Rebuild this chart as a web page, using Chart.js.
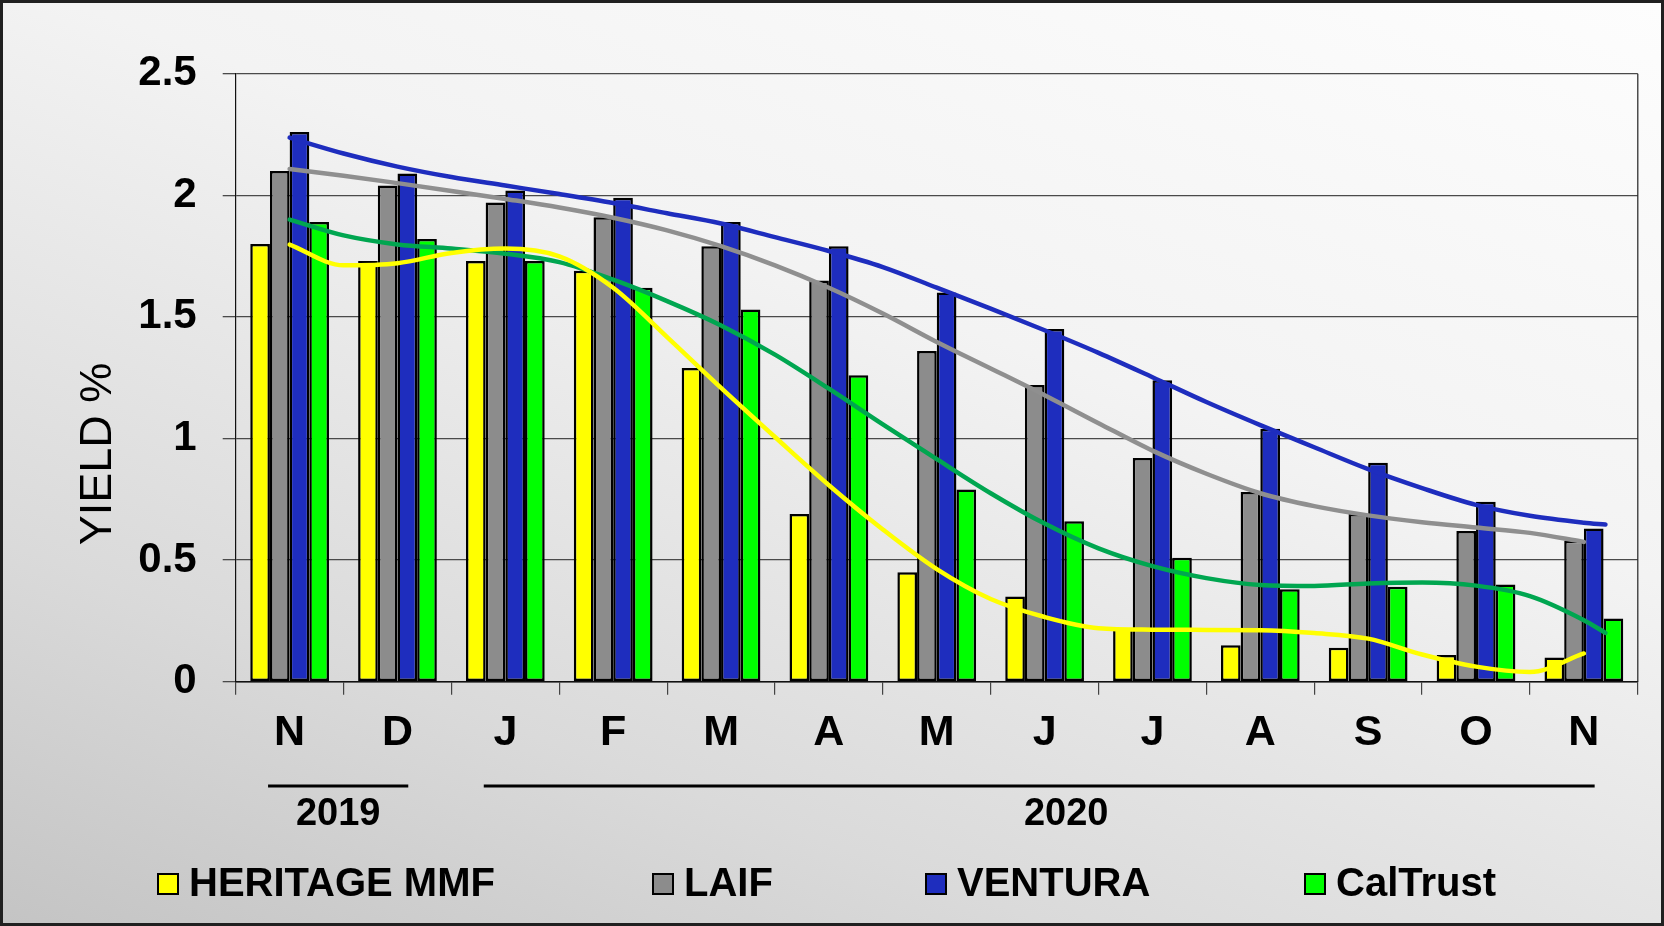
<!DOCTYPE html>
<html>
<head>
<meta charset="utf-8">
<script src="https://cdn.jsdelivr.net/npm/chart.js@4.4.1/dist/chart.umd.min.js"></script>
<style>
    html, body { margin: 0; padding: 0; }
    .frame {
        position: relative;
        width: 1664px;
        height: 926px;
        box-sizing: border-box;
        border: 3px solid #202020;
        background: linear-gradient(200deg, #fdfdfd 0%, #f3f3f3 38%, #dadada 75%, #c4c4c4 100%);
        overflow: hidden;
    }
    .frame canvas { position: absolute; left: 0; top: 0; }
    .legend-item {
        position: absolute;
        top: 859px;
        height: 40px;
        display: flex;
        align-items: center;
        font: bold 40px 'Liberation Sans', Arial, sans-serif;
        color: #000;
        white-space: nowrap;
    }
    .legend-box {
        width: 18px;
        height: 18px;
        border: 2px solid #000;
        margin-right: 10px;
        margin-top: 3px;
    }
</style>
</head>
<body>
<div class="frame" id="frame">
    <canvas id="barChart" width="1658" height="920"></canvas>
    <canvas id="trendChart" width="1658" height="920"></canvas>
</div>
<script>
// months Nov 2019 .. Nov 2020
const MONTHS = ['N', 'D', 'J', 'F', 'M', 'A', 'M', 'J', 'J', 'A', 'S', 'O', 'N'];

const HERITAGE = [1.80, 1.73, 1.73, 1.69, 1.29, 0.69, 0.45, 0.35, 0.22, 0.15, 0.14, 0.11, 0.10];
const LAIF     = [2.10, 2.04, 1.97, 1.91, 1.79, 1.65, 1.36, 1.22, 0.92, 0.78, 0.69, 0.62, 0.58];
const VENTURA  = [2.26, 2.09, 2.02, 1.99, 1.89, 1.79, 1.60, 1.45, 1.24, 1.04, 0.90, 0.74, 0.63];
const CALTRUST = [1.89, 1.82, 1.73, 1.62, 1.53, 1.26, 0.79, 0.66, 0.51, 0.38, 0.39, 0.40, 0.26];

// trendline positions (month index) and values
const TREND_X = [0, 0.5, 1, 1.5, 2, 2.5, 3, 3.5, 4, 4.5, 5, 5.5, 6, 6.5, 7, 7.5, 8, 8.5, 9, 9.5, 10, 10.5, 11, 11.5, 12, 12.2];
const HERITAGE_TREND = [1.797, 1.712, 1.721, 1.763, 1.781, 1.749, 1.620, 1.417, 1.208, 1.006, 0.808, 0.626, 0.463, 0.340, 0.266, 0.220, 0.214, 0.213, 0.212, 0.200, 0.177, 0.112, 0.062, 0.040, 0.116];
const LAIF_TREND     = [2.108, 2.080, 2.050, 2.018, 1.985, 1.950, 1.908, 1.856, 1.791, 1.712, 1.620, 1.514, 1.397, 1.288, 1.178, 1.063, 0.950, 0.855, 0.775, 0.722, 0.684, 0.656, 0.634, 0.612, 0.575];
const VENTURA_TREND  = [2.237, 2.172, 2.118, 2.075, 2.040, 2.005, 1.968, 1.926, 1.884, 1.828, 1.771, 1.705, 1.620, 1.534, 1.445, 1.352, 1.252, 1.150, 1.055, 0.964, 0.874, 0.796, 0.727, 0.682, 0.654, 0.646];
const CALTRUST_TREND = [1.900, 1.835, 1.798, 1.781, 1.760, 1.725, 1.653, 1.565, 1.465, 1.345, 1.205, 1.058, 0.915, 0.775, 0.650, 0.548, 0.475, 0.426, 0.398, 0.394, 0.404, 0.408, 0.395, 0.352, 0.253, 0.201];

const Y_TICKS = [0, 0.5, 1, 1.5, 2, 2.5];
const YEARS = [
    { label: '2019', from: 0, to: 1, at: 0.45 },
    { label: '2020', from: 2, to: 12, at: 7.2 },
];

const SANS = "'Liberation Sans', Arial, sans-serif";
// plot box inside the canvas, shared by both charts
const PLOT = { left: 232.7, top: 70.7, right: 23.2, bottom: 241.3 };

const barSet = (label, data, color) => ({
    label,
    data,
    backgroundColor: color,
    borderColor: '#000',
    borderWidth: 2.5,
    borderSkipped: false,
    categoryPercentage: 0.73,
    barPercentage: 1.0,
});

const trendSet = (label, vals, color) => ({
    label,
    data: vals.map((y, i) => ({ x: TREND_X[i], y })),
    borderColor: color,
    borderWidth: 4.5,
    borderCapStyle: 'round',
    pointRadius: 0,
    cubicInterpolationMode: 'monotone',
    fill: false,
});

// plot border on the right, year brackets, axis title
const extras = {
    id: 'extras',
    afterDraw(chart) {
        const { ctx, chartArea: a, scales: { x } } = chart;
        ctx.save();
        ctx.strokeStyle = '#222';
        ctx.lineWidth = 1.2;
        ctx.beginPath();
        ctx.moveTo(a.right, a.top);
        ctx.lineTo(a.right, a.bottom);
        ctx.stroke();

        ctx.fillStyle = '#000';
        ctx.strokeStyle = '#000';
        ctx.lineWidth = 3;
        ctx.textAlign = 'center';
        ctx.textBaseline = 'middle';
        ctx.font = `bold 38px ${SANS}`;
        YEARS.forEach(y => {
            ctx.beginPath();
            ctx.moveTo(x.getPixelForValue(y.from - 0.2), 783);
            ctx.lineTo(x.getPixelForValue(y.to + 0.1), 783);
            ctx.stroke();
            ctx.fillText(y.label, x.getPixelForValue(y.at), 812);
        });

        ctx.translate(96, 451);
        ctx.rotate(-Math.PI / 2);
        ctx.font = `45px ${SANS}`;
        ctx.fillText('YIELD %', 0, 0);
        ctx.restore();
    },
};

const barChart = new Chart(document.getElementById('barChart').getContext('2d'), {
    type: 'bar',
    data: {
        labels: MONTHS,
        datasets: [
            barSet('HERITAGE MMF', HERITAGE, '#ffff00'),
            barSet('LAIF', LAIF, '#8c8c8c'),
            barSet('VENTURA', VENTURA, '#1e2dbe'),
            barSet('CalTrust', CALTRUST, '#00ff00'),
        ],
    },
    options: {
        responsive: false,
        animation: false,
        devicePixelRatio: 1,
        layout: { padding: { top: PLOT.top, right: PLOT.right, left: 0, bottom: 0 } },
        plugins: {
            legend: { display: false },
            tooltip: { enabled: false },
        },
        scales: {
            x: {
                offset: true,
                grid: {
                    offset: true,
                    drawOnChartArea: false,
                    drawTicks: true,
                    tickLength: 13,
                    color: '#444',
                    lineWidth: 1.2,
                },
                border: { display: true, color: '#111', width: 1.5 },
                ticks: {
                    color: '#000',
                    padding: 13,
                    maxRotation: 0,
                    autoSkip: false,
                    font: { family: SANS, size: 43, weight: 'bold' },
                },
                afterFit: s => { s.height = PLOT.bottom; },
            },
            y: {
                min: 0,
                max: 2.5,
                afterBuildTicks: s => { s.ticks = Y_TICKS.map(v => ({ value: v })); },
                grid: {
                    color: '#4a4a4a',
                    lineWidth: 1.3,
                    tickLength: 13,
                },
                border: { display: true, color: '#111', width: 1.2 },
                ticks: {
                    color: '#000',
                    padding: 26,
                    font: { family: SANS, size: 42, weight: 'bold' },
                    callback: v => String(v),
                },
                afterFit: s => { s.width = PLOT.left; },
            },
        },
    },
    plugins: [extras],
});

// polynomial trendlines, drawn over the bars on the same plot box
new Chart(document.getElementById('trendChart').getContext('2d'), {
    type: 'line',
    data: {
        datasets: [
            trendSet('HERITAGE trend', HERITAGE_TREND, '#ffff00'),
            trendSet('LAIF trend', LAIF_TREND, '#8f8f8f'),
            trendSet('VENTURA trend', VENTURA_TREND, '#1e2dbe'),
            trendSet('CalTrust trend', CALTRUST_TREND, '#00a650'),
        ],
    },
    options: {
        responsive: false,
        animation: false,
        devicePixelRatio: 1,
        layout: { padding: PLOT },
        plugins: {
            legend: { display: false },
            tooltip: { enabled: false },
        },
        scales: {
            x: { type: 'linear', display: false, min: -0.5, max: 12.5 },
            y: { type: 'linear', display: false, min: 0, max: 2.5 },
        },
    },
});

// legend as html, built from the bar datasets
const LEGEND_LEFT = [154, 649, 922, 1301];
const frame = document.getElementById('frame');
barChart.data.datasets.forEach((d, i) => {
    const item = document.createElement('div');
    item.className = 'legend-item';
    item.style.left = LEGEND_LEFT[i] + 'px';
    item.innerHTML = `<span class="legend-box" style="background:${d.backgroundColor}"></span>${d.label}`;
    frame.appendChild(item);
});
</script>
</body>
</html>
